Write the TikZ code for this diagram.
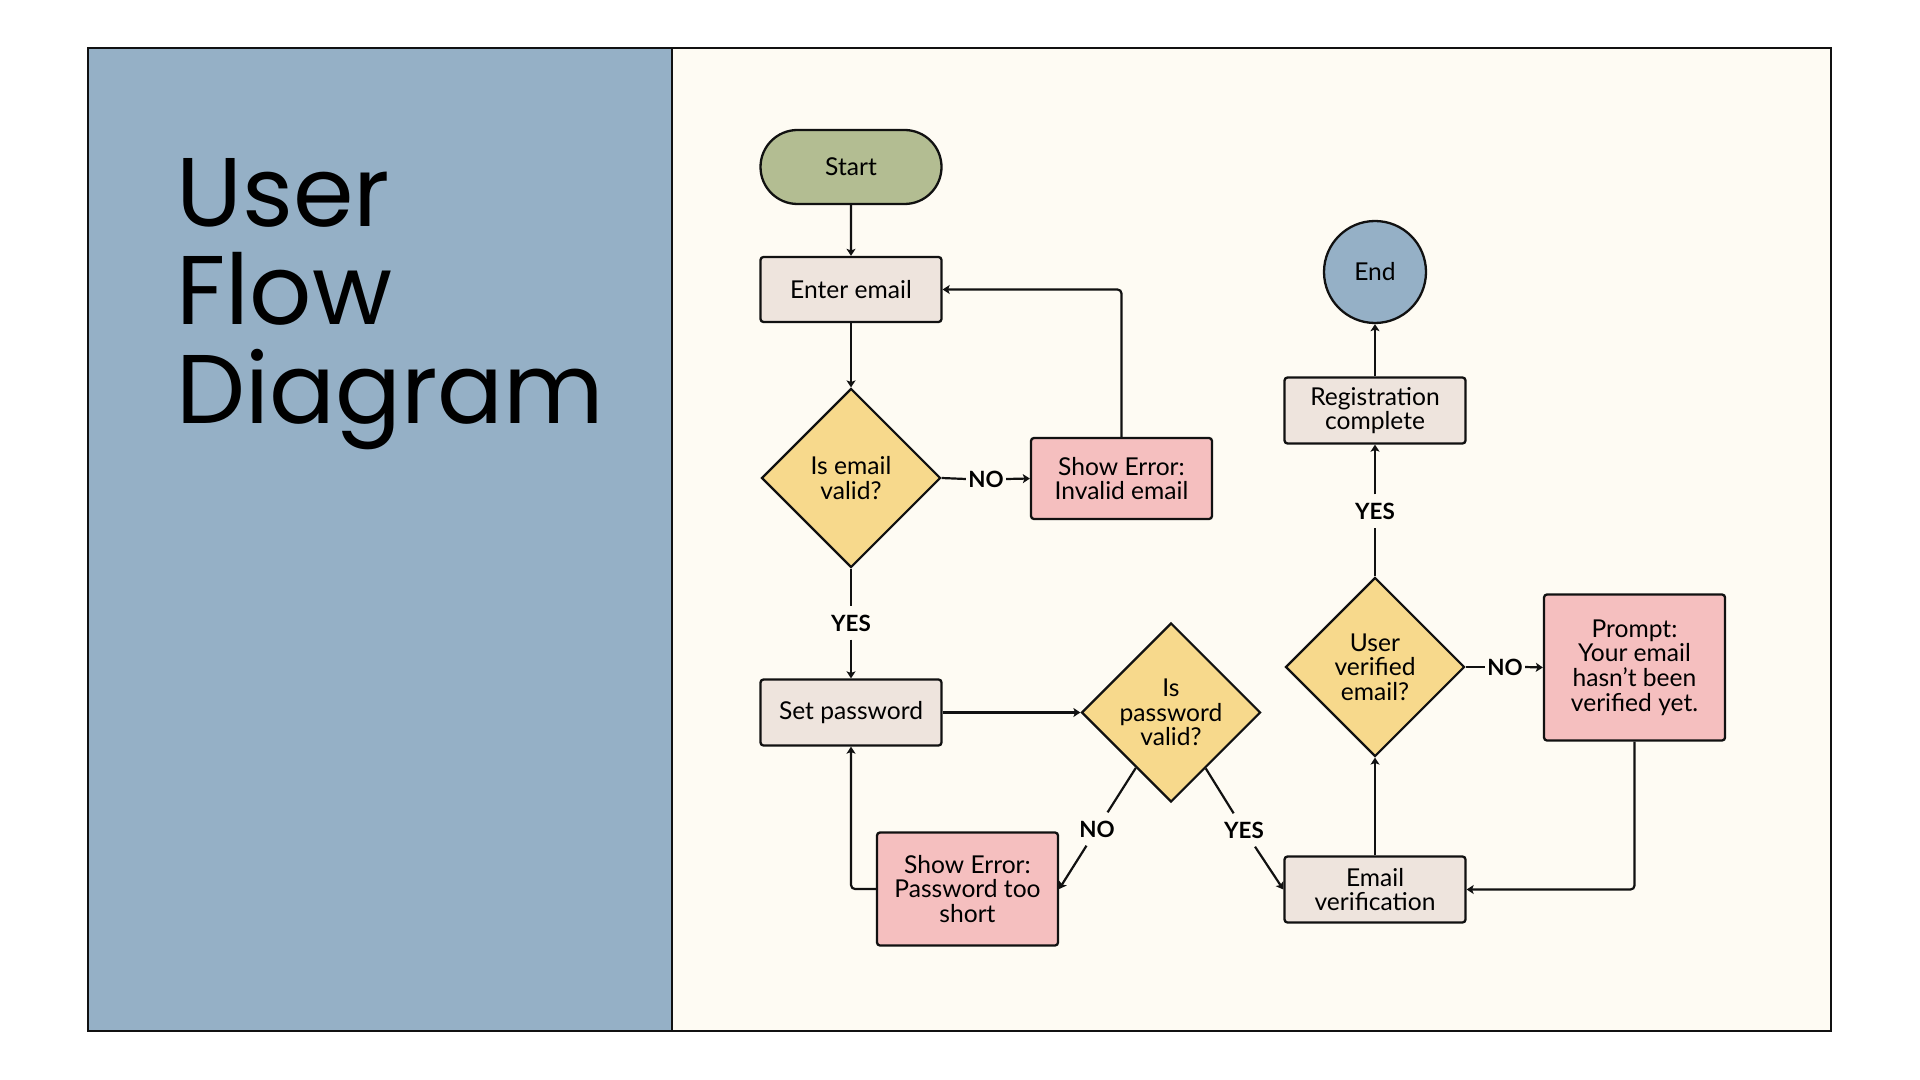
\documentclass[tikz,border=0pt]{standalone}
\usepackage{fontspec}
\setmainfont{Lato}
\newfontfamily\titlefont{Poppins}
\usetikzlibrary{shapes.geometric,shapes.misc,arrows.meta}
\definecolor{panelblue}{HTML}{95B0C6}
\definecolor{cream}{HTML}{FEFBF3}
\definecolor{startgreen}{HTML}{B3BD92}
\definecolor{procfill}{HTML}{EEE4DD}
\definecolor{decfill}{HTML}{F7D98C}
\definecolor{errfill}{HTML}{F5BFBF}
\definecolor{ink}{HTML}{111111}
\tikzset{
  body/.style={font=\fontsize{12.3}{12.3}\selectfont},
  box/.style={draw=ink, line width=1.15pt, rounded corners=1.5pt, align=center, inner sep=0pt, minimum width=90.5pt, body},
  proc/.style={box, fill=procfill},
  err/.style={box, fill=errfill},
  dec/.style={diamond, draw=ink, line width=1.1pt, fill=decfill, aspect=1, minimum size=89.5pt, inner sep=0pt, align=center, body},
  lbl/.style={font=\fontsize{11.2}{11.2}\selectfont\bfseries, inner xsep=1pt, inner ysep=4pt},
  conn/.style={draw=ink, line width=1.1pt},
  arr/.style={conn, -{Stealth[length=3.5pt,width=4.5pt,inset=0.8pt]}},
  titletxt/.style={font=\titlefont\fontsize{48.8}{48.8}\selectfont, anchor=base west, inner sep=0pt},
}
\begin{document}
\begin{tikzpicture}[x=0.5pt,y=-0.5pt]
\useasboundingbox (0,0) rectangle (1920,1080);
\fill[white] (0,0) rectangle (1920,1080);
\fill[panelblue] (88,48) rectangle (672,1031);
\fill[cream] (672,48) rectangle (1831,1031);
\draw[ink, line width=1.25pt] (88,48) rectangle (1831,1031);
\draw[ink, line width=1.25pt] (672,48) -- (672,1031);

% title
\node[titletxt] (t1) at (176,227) {User};
\node[titletxt] (t2) at (176,325) {Flow};
\node[titletxt] (t3) at (176,423) {Diagram};

% nodes
\node[rounded rectangle, draw=ink, line width=1.15pt, fill=startgreen, minimum width=90.5pt, minimum height=37pt, inner sep=0pt, body] (start) at (851,167) {Start};
\node[proc, minimum height=32.5pt] (enter) at (851,289.5) {Enter email};
\node[dec] (d1) at (851,478) {Is email\\valid?};
\node[err, minimum height=40.5pt] (err1) at (1121.5,478.5) {Show Error:\\Invalid email};
\node[proc, minimum height=33pt] (setpw) at (851,712.5) {Set password};
\node[dec] (d2) at (1171,712.5) {Is\\password\\valid?};
\node[err, minimum height=56.5pt] (err2) at (967.5,889) {Show Error:\\Password too\\short};
\node[proc, minimum height=33pt] (emailver) at (1375,889.5) {Email\\verification};
\node[dec] (d3) at (1375,667) {User\\verified\\email?};
\node[err, minimum height=73pt] (prompt) at (1634.5,667.5) {Prompt:\\Your email\\hasn’t been\\verified yet.};
\node[proc, minimum height=33pt] (reg) at (1375,410.5) {Registration\\complete};
\node[circle, draw=ink, line width=1.15pt, fill=panelblue, minimum size=51pt, inner sep=0pt, body] (end) at (1375,272) {End};

% labels
\node[lbl] (no1) at (986,479) {NO};
\node[lbl] (yes1) at (851,623) {YES};
\node[lbl] (no2) at (1097,829) {NO};
\node[lbl] (yes2) at (1244,830) {YES};
\node[lbl] (no3) at (1505,667) {NO};
\node[lbl] (yes3) at (1375,511) {YES};

% connectors
\draw[arr] (start) -- (enter);
\draw[arr] (enter) -- (d1);
\draw[conn] (d1.east) -- (no1.west);
\draw[arr] (no1.east) -- (err1.west);
\draw[arr, rounded corners=2pt] (err1.north) |- (enter.east);
\draw[conn] (d1.south) -- (yes1.north);
\draw[arr] (yes1.south) -- (setpw.north);
\draw[arr] (setpw.east) -- (d2.west);
\draw[conn] (d2) -- (no2);
\draw[arr] (no2) -- (err2.east);
\draw[conn] (d2) -- (yes2);
\draw[arr] (yes2) -- (emailver.west);
\draw[arr, rounded corners=2pt] (err2.west) -| (setpw.south);
\draw[arr] (emailver.north) -- (d3.south);
\draw[conn] (d3.north) -- (yes3.south);
\draw[arr] (yes3.north) -- (reg.south);
\draw[arr] (reg.north) -- (end.south);
\draw[conn] (d3.east) -- (no3.west);
\draw[arr] (no3.east) -- (prompt.west);
\draw[arr, rounded corners=2pt] (prompt.south) |- (emailver.east);
\end{tikzpicture}
\end{document}
